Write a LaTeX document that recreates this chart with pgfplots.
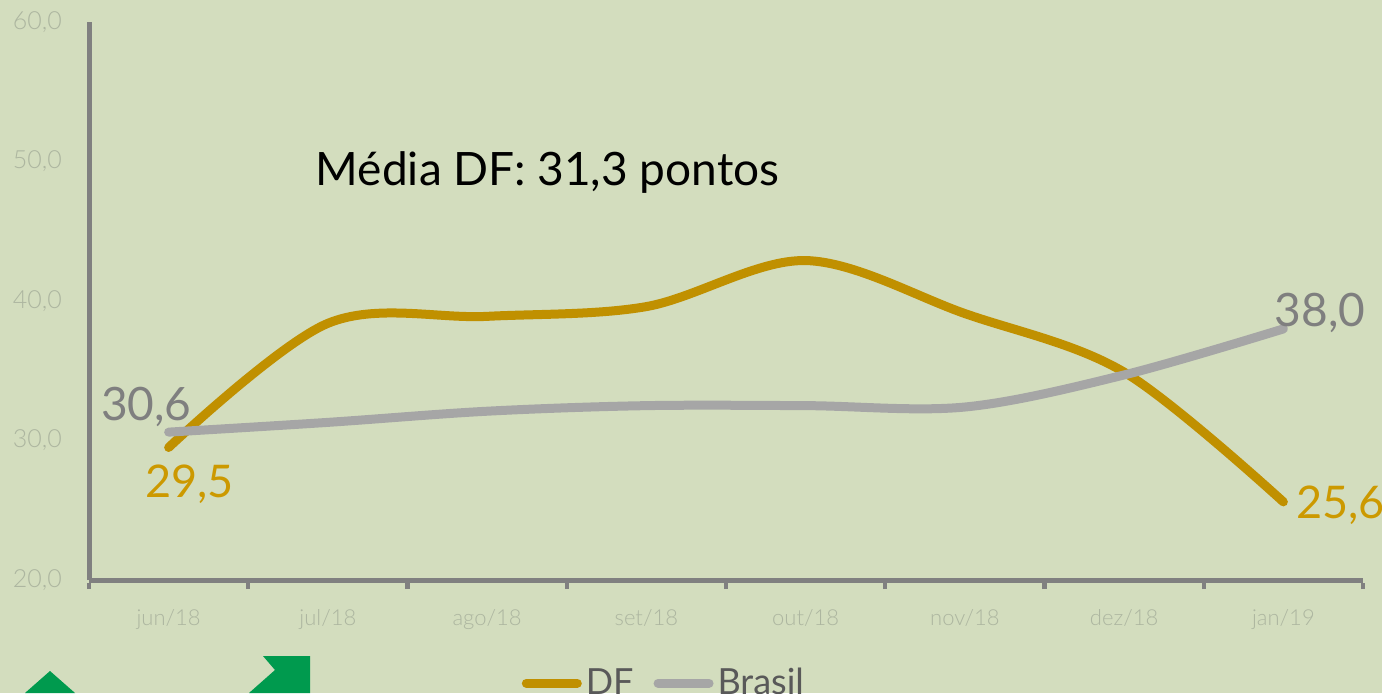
\documentclass[border=0pt]{standalone}
\usepackage{pgfplots}
\pgfplotsset{compat=1.18}
\usepackage{fontspec}
\setmainfont{Lato}
\newfontfamily\lightfont{Lato Light}
\definecolor{bgc}{HTML}{D3DDBE}
\definecolor{axisc}{HTML}{808080}
\definecolor{tickc}{HTML}{ADB6A0}
\definecolor{dfc}{HTML}{C09000}
\definecolor{dflab}{HTML}{CC9900}
\definecolor{brc}{HTML}{A6A6A6}
\definecolor{brlab}{HTML}{7F7F7F}
\definecolor{leg}{HTML}{595959}
\definecolor{arrowc}{HTML}{009A4E}
\begin{document}
\begin{tikzpicture}[x=1pt,y=1pt]
\path[use as bounding box,clip] (0,0) rectangle (691,346.5);
\fill[bgc] (0,0) rectangle (691,346.5);
% green arrows cut off by the slide edge
\fill[arrowc] (12.5,0) -- (25,11) -- (37.5,0) -- cycle;
\fill[arrowc] (124.5,0) -- (137.5,11.5) -- (131.5,18.5) -- (155,18.5) -- (155,0) -- cycle;
\begin{axis}[
    at={(44.5pt,56.5pt)},
    anchor=south west,
    scale only axis,
    width=637pt,
    height=279pt,
    xmin=-0.5, xmax=7.5,
    ymin=20, ymax=60,
    axis x line=bottom,
    axis y line=left,
    axis line style={draw=axisc,line width=2.5pt,-},
    xtick={-0.5,0.5,1.5,2.5,3.5,4.5,5.5,6.5,7.5},
    x tick label as interval=true,
    xticklabels={jun/18,jul/18,ago/18,set/18,out/18,nov/18,dez/18,jan/19},
    ytick={20,30,40,50,60},
    yticklabels={{20,0},{30,0},{40,0},{50,0},{60,0}},
    xtick style={draw=axisc,line width=2.2pt,yshift=-3pt},
    ytick style={draw=none},
    major tick length=3pt,
    tick label style={font=\lightfont\fontsize{11}{13}\selectfont,text=tickc},
    x tick label style={yshift=-9.5pt},
    y tick label style={xshift=-8.5pt,font=\lightfont\fontsize{12.5}{14}\selectfont},
    clip=false,
    legend columns=2,
    legend style={at={(0.452,-0.185)},anchor=center,draw=none,fill=none,
        font=\fontsize{18}{20}\selectfont,text=leg,
        /tikz/every even column/.append style={column sep=8pt},inner sep=0pt},
    legend image code/.code={\draw[#1,line cap=round] (0pt,0pt) -- (25.5pt,0pt);},
]
\addplot[dfc,line width=4.5pt,line cap=round,smooth,tension=0.55] coordinates {
    (0,29.5) (1,38.4) (2,38.9) (3,39.6) (4,42.9) (5,39.1) (6,34.9) (7,25.6)
};
\addplot[brc,line width=4.5pt,line cap=round,smooth,tension=0.55] coordinates {
    (0,30.6) (1,31.3) (2,32.1) (3,32.5) (4,32.5) (5,32.4) (6,34.7) (7,38.0)
};
\legend{DF,Brasil}
\node[text=brlab,font=\fontsize{23}{24}\selectfont,anchor=base] at (axis cs:-0.14,31.4) {30,6};
\node[text=dflab,font=\fontsize{22.5}{24}\selectfont,anchor=base] at (axis cs:0.13,25.95) {29,5};
\node[text=dflab,font=\fontsize{22.5}{24}\selectfont,anchor=base] at (axis cs:7.36,24.4) {25,6};
\node[text=brlab,font=\fontsize{23}{24}\selectfont,anchor=base] at (axis cs:7.23,38.2) {38,0};
\node[text=black,font=\fontsize{23}{26}\selectfont,anchor=base] at (axis cs:2.38,48.3) {Média DF: 31,3 pontos};
\end{axis}
\end{tikzpicture}
\end{document}
